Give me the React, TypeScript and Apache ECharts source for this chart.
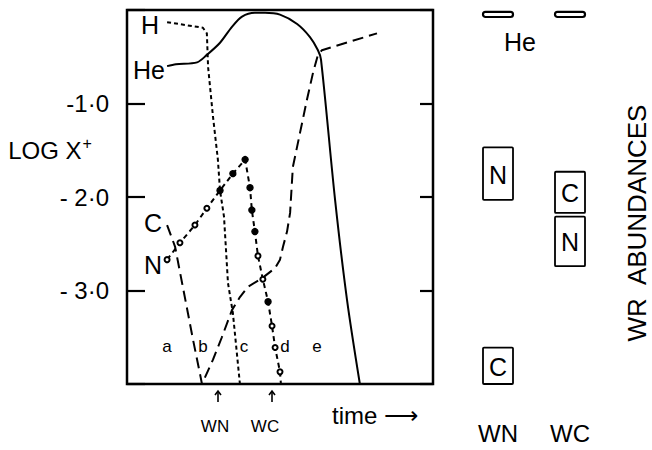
import React, { useEffect, useRef } from "react";
import * as echarts from "echarts";

// Time axis: arbitrary units 0..100; abundances: log X+
const heCurve: [number, number][] = [
  [13.1, -0.6], [16.0, -0.58], [22.9, -0.56], [26.1, -0.48], [30.4, -0.35], [34.3, -0.18],
  [37.6, -0.07], [41.8, -0.03], [45.1, -0.03], [50.0, -0.05], [55.6, -0.15],
  [59.8, -0.29], [62.4, -0.43], [63.4, -0.53], [68.0, -2.03], [71.9, -3.1], [76.1, -4.0],
];
const hCurve: [number, number][] = [
  [13.1, -0.13], [24.8, -0.19], [26.1, -0.25], [26.5, -0.61], [28.1, -1.14], [29.7, -1.6],
  [30.4, -1.93], [31.7, -2.21], [33.0, -2.92], [34.6, -3.24], [36.9, -4.0],
];
const cCurve: [number, number][] = [
  [13.1, -2.3], [15.7, -2.53], [18.0, -2.92], [19.9, -3.24], [21.6, -3.53], [23.9, -3.9],
  [24.5, -4.0], [28.1, -3.74], [31.0, -3.5], [34.3, -3.21], [36.9, -3.07], [39.5, -2.96],
  [44.1, -2.87], [48.4, -2.76], [50.0, -2.67], [51.0, -2.53], [52.3, -2.37], [53.3, -2.17],
  [54.2, -1.68], [56.5, -1.32], [58.8, -0.96], [60.8, -0.67], [62.4, -0.48], [63.7, -0.43],
  [81.7, -0.25],
];
const nCurve: [number, number][] = [
  [13.1, -2.67], [17.3, -2.49], [22.2, -2.3], [26.1, -2.12], [30.4, -1.93], [34.6, -1.75],
  [38.6, -1.6], [40.2, -1.9], [40.8, -2.14], [41.8, -2.37], [42.8, -2.63], [44.4, -2.88],
  [46.1, -3.12], [47.4, -3.38], [48.4, -3.61], [50.0, -3.87], [50.3, -4.0],
];
// marker kind for each N point: 1 filled dot, 0 open circle, -1 none
const nMarkers = [0, 0, 0, 0, 1, 1, 1, 1, 1, 1, 0, 0, 1, 0, 0, 0, -1];

const yTicks = [-1, -2, -3];
const tickLabels = ["-1·0", "- 2·0", "- 3·0"];

const abundanceCategories = ["WN", "WC"];
// [category index, upper log X+, lower log X+]
const abundanceBoxes: [number, number, number][] = [
  [0, -1.47, -2.03],
  [1, -1.73, -2.17],
  [1, -2.21, -2.74],
  [0, -3.61, -4.0],
];
const abundanceLabels = ["N", "C", "N", "C"];
const heBoxes: [number, number, number][] = [
  [0, -0.02, -0.075],
  [1, -0.02, -0.075],
];

const FONT = "Liberation Sans";

export default function App() {
  const ref = useRef<HTMLDivElement>(null);
  useEffect(() => {
    document.body.style.margin = "0";
    const chart = echarts.init(ref.current!, null, { renderer: "svg" });
    const txt = (text: string, x: number, y: number, size: number, extra: any = {}) => ({
      type: "text",
      x,
      y,
      ...extra,
      style: {
        text,
        fontSize: size,
        fontFamily: FONT,
        fill: "#000",
        align: "center",
        verticalAlign: "middle",
        ...(extra.style || {}),
      },
    });
    const boxRender = (labels: string[] | null, isHe: boolean) => (params: any, api: any) => {
      const idx = api.value(0);
      const p1 = api.coord([idx, api.value(1)]);
      const p2 = api.coord([idx, api.value(2)]);
      const w = 30;
      const x = p1[0] - w / 2;
      const children: any[] = [
        {
          type: "rect",
          shape: { x, y: p1[1], width: w, height: p2[1] - p1[1], r: isHe ? 2.5 : 1 },
          style: { fill: "none", stroke: "#000", lineWidth: isHe ? 2.2 : 1.8 },
        },
      ];
      if (labels) {
        children.push({
          type: "text",
          style: {
            text: labels[params.dataIndex],
            x: p1[0],
            y: (p1[1] + p2[1]) / 2 + 1,
            align: "center",
            verticalAlign: "middle",
            fontSize: 25,
            fontFamily: FONT,
            fill: "#000",
          },
        });
      }
      return { type: "group", children };
    };

    const option: any = {
      animation: false,
      backgroundColor: "#fff",
      grid: [
        { left: 127, top: 10, width: 306, height: 374, show: true, borderColor: "#000", borderWidth: 2.5, backgroundColor: "transparent" },
        { left: 462, top: 10, width: 144, height: 374 },
      ],
      xAxis: [
        { gridIndex: 0, type: "value", min: 0, max: 100, show: false },
        {
          gridIndex: 1,
          type: "category",
          data: abundanceCategories,
          axisLine: { show: false },
          axisTick: { show: false },
          axisLabel: { fontSize: 24, fontFamily: FONT, color: "#000", margin: 37 },
        },
      ],
      yAxis: [
        {
          gridIndex: 0,
          type: "value",
          min: -4,
          max: 0,
          interval: 1,
          position: "left",
          axisLine: { show: false },
          splitLine: { show: false },
          axisTick: { inside: true, length: 18, lineStyle: { color: "#000", width: 2.2 } },
          axisLabel: {
            fontSize: 24,
            fontFamily: FONT,
            color: "#000",
            margin: 18,
            formatter: (v: number) => {
              const i = yTicks.indexOf(v);
              return i >= 0 ? tickLabels[i] : "";
            },
          },
        },
        {
          gridIndex: 0,
          type: "value",
          min: -4,
          max: 0,
          interval: 1,
          position: "right",
          axisLine: { show: false },
          splitLine: { show: false },
          axisTick: { inside: true, length: 13, lineStyle: { color: "#000", width: 2.2 } },
          axisLabel: { show: false },
        },
        { gridIndex: 1, type: "value", min: -4, max: 0, show: false },
      ],
      series: [
        {
          type: "line",
          xAxisIndex: 0,
          yAxisIndex: 0,
          data: heCurve,
          showSymbol: false,
          smooth: 0.3,
          lineStyle: { color: "#000", width: 2 },
        },
        {
          type: "line",
          xAxisIndex: 0,
          yAxisIndex: 0,
          data: hCurve,
          showSymbol: false,
          lineStyle: { color: "#000", width: 2, type: [4, 3] },
        },
        {
          type: "line",
          xAxisIndex: 0,
          yAxisIndex: 0,
          data: cCurve,
          showSymbol: false,
          lineStyle: { color: "#000", width: 2, type: [11, 6] },
        },
        {
          type: "line",
          xAxisIndex: 0,
          yAxisIndex: 0,
          data: nCurve.map((p, i) => ({
            value: p,
            symbol: nMarkers[i] === 1 ? "circle" : nMarkers[i] === 0 ? "emptyCircle" : "none",
            symbolSize: nMarkers[i] === 1 ? 6 : 5,
          })),
          showSymbol: true,
          itemStyle: { color: "#000", borderColor: "#000", borderWidth: 1.4 },
          lineStyle: { color: "#000", width: 2, type: [5, 4] },
          z: 3,
        },
        {
          type: "custom",
          xAxisIndex: 1,
          yAxisIndex: 2,
          data: abundanceBoxes,
          renderItem: boxRender(abundanceLabels, false),
        },
        {
          type: "custom",
          xAxisIndex: 1,
          yAxisIndex: 2,
          data: heBoxes,
          renderItem: boxRender(null, true),
        },
      ],
      graphic: [
        {
          type: "text",
          x: 50,
          y: 150,
          style: {
            text: "{m|LOG X}{s|+}",
            fill: "#000",
            align: "center",
            verticalAlign: "middle",
            rich: {
              m: { fontSize: 24, fontFamily: FONT, fill: "#000" },
              s: { fontSize: 16, fontFamily: FONT, fill: "#000", verticalAlign: "top", padding: [0, 0, 14, 1] },
            },
          },
        },
        txt("H", 150, 25, 25),
        txt("He", 149, 70, 25),
        txt("C", 153, 223, 25),
        txt("N", 153, 265, 25),
        txt("a", 167, 346, 17),
        txt("b", 203, 346, 17),
        txt("c", 244, 346, 17),
        txt("d", 285, 346, 17),
        txt("e", 317, 346, 17),
        { type: "line", shape: { x1: 218, y1: 392, x2: 218, y2: 402 }, style: { stroke: "#000", lineWidth: 1.6 } },
        { type: "polyline", shape: { points: [[215, 395], [218, 391], [221, 395]] }, style: { stroke: "#000", lineWidth: 1.6, fill: "none" } },
        { type: "line", shape: { x1: 272, y1: 392, x2: 272, y2: 402 }, style: { stroke: "#000", lineWidth: 1.6 } },
        { type: "polyline", shape: { points: [[269, 395], [272, 391], [275, 395]] }, style: { stroke: "#000", lineWidth: 1.6, fill: "none" } },
        txt("WN", 215, 426, 17),
        txt("WC", 265, 426, 17),
        txt("time ⟶", 375, 415, 24),
        txt("He", 520, 42, 25),
        txt("WR  ABUNDANCES", 637, 223, 26, { rotation: Math.PI / 2 }),
      ],
    };
    chart.setOption(option);
    return () => chart.dispose();
  }, []);
  return <div ref={ref} style={{ width: 652, height: 450, background: "#fff" }} />;
}
